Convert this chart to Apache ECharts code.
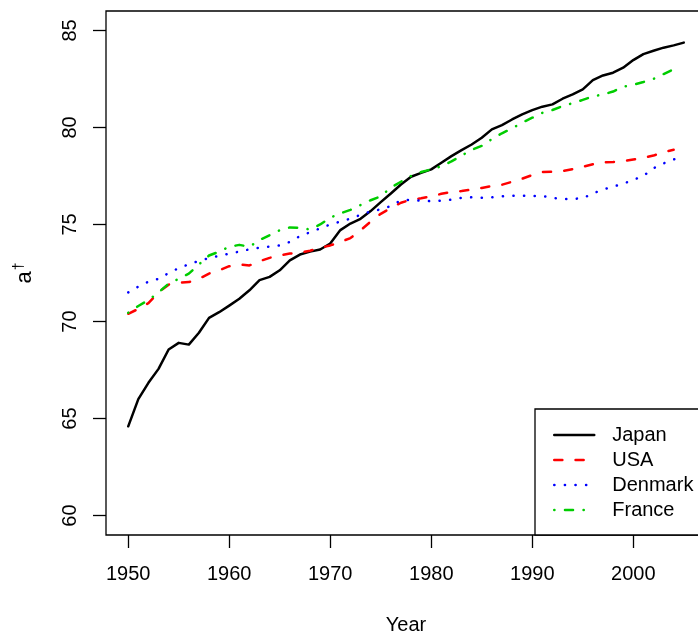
<!DOCTYPE html>
<html><head><meta charset="utf-8">
<script src="https://cdn.jsdelivr.net/npm/echarts@6/dist/echarts.min.js"></script>
<style>html,body{margin:0;padding:0;overflow:hidden;background:#fff}#c{width:720px;height:634px}</style>
</head><body><div id="c"></div>
<script>
const years = [1950,1951,1952,1953,1954,1955,1956,1957,1958,1959,
  1960,1961,1962,1963,1964,1965,1966,1967,1968,1969,
  1970,1971,1972,1973,1974,1975,1976,1977,1978,1979,
  1980,1981,1982,1983,1984,1985,1986,1987,1988,1989,
  1990,1991,1992,1993,1994,1995,1996,1997,1998,1999,
  2000,2001,2002,2003,2004,2005];
const japan = [64.6,66.0,66.84,67.56,68.56,68.9,68.81,69.42,70.19,70.48,
  70.82,71.17,71.61,72.13,72.3,72.64,73.15,73.45,73.6,73.71,
  74.02,74.71,75.05,75.29,75.69,76.15,76.6,77.06,77.46,77.66,
  77.84,78.18,78.52,78.83,79.12,79.47,79.9,80.12,80.41,80.67,
  80.89,81.07,81.19,81.48,81.7,81.96,82.44,82.68,82.82,83.08,
  83.47,83.78,83.95,84.11,84.23,84.37];
const usa = [70.4,70.65,70.95,71.5,71.9,72.0,72.03,72.2,72.47,72.64,
  72.85,72.94,72.89,73.11,73.28,73.4,73.5,73.55,73.65,73.8,
  73.92,74.1,74.3,74.7,75.15,75.55,75.85,76.12,76.28,76.35,
  76.45,76.58,76.68,76.72,76.8,76.88,76.98,77.05,77.2,77.36,
  77.55,77.7,77.72,77.75,77.85,77.97,78.1,78.21,78.22,78.26,
  78.35,78.44,78.55,78.73,78.85];
const denmark = [71.5,71.8,72.05,72.2,72.5,72.75,72.95,73.12,73.27,73.38,
  73.5,73.6,73.72,73.8,73.86,73.92,74.1,74.4,74.6,74.8,
  75.0,75.15,75.3,75.5,75.67,75.78,75.95,76.25,76.26,76.22,
  76.2,76.23,76.28,76.37,76.4,76.38,76.4,76.45,76.48,76.48,
  76.47,76.47,76.37,76.31,76.32,76.35,76.6,76.8,76.95,77.1,
  77.3,77.5,77.9,78.15,78.35,78.55];
const france = [70.45,70.8,71.1,71.5,71.95,72.2,72.47,72.94,73.4,73.6,
  73.85,73.95,73.85,74.2,74.45,74.7,74.85,74.83,74.74,75.0,
  75.35,75.57,75.75,76.0,76.25,76.45,76.9,77.2,77.5,77.7,
  77.84,78.0,78.25,78.55,78.85,79.05,79.4,79.7,79.95,80.25,
  80.5,80.75,80.9,81.1,81.25,81.42,81.6,81.7,81.85,82.1,
  82.2,82.34,82.5,82.75,83.0];
const xTicks = [1950,1960,1970,1980,1990,2000];
const yTicks = [60,65,70,75,80,85];
const seriesNames = ['Japan','USA','Denmark','France'];

const FONT = 'Liberation Sans';
const styles = [
  {color:'#000000', type:'solid'},
  {color:'#FF0000', type:[8.1,13.2]},
  {color:'#0000FF', type:[0.2,10.4]},
  {color:'#00CD00', type:[0.2,10.5,8.1,10.5]}
];
const values = [japan, usa, denmark, france];
const series = seriesNames.map((n,i)=>({
  name:n, type:'line', symbol:'none', showSymbol:false, animation:false,
  data: values[i].map((v,j)=>[years[j], v]),
  lineStyle:{color:styles[i].color, width:2.5, type:styles[i].type, cap:'round', join:'round'},
  itemStyle:{color:styles[i].color}
}));

const chart = echarts.init(document.getElementById('c'), null, {renderer:'canvas'});
chart.setOption({
  animation:false,
  backgroundColor:'#fff',
  grid:{left:106, top:11, width:600, height:524, containLabel:false, outerBoundsMode:'none',
    show:true, borderColor:'#000', borderWidth:1.3, backgroundColor:'transparent'},
  xAxis:{type:'value', min:1947.8, max:2007.2,
    name:'Year', nameLocation:'middle', nameGap:80,
    nameTextStyle:{fontSize:20, color:'#000', fontFamily:FONT},
    axisLine:{show:false},
    axisTick:{show:true, length:13, customValues:xTicks, lineStyle:{color:'#000', width:1.3}},
    axisLabel:{customValues:xTicks, fontSize:20, color:'#000', fontFamily:FONT, margin:29, formatter:(v)=>String(v)},
    splitLine:{show:false}},
  yAxis:{type:'value', min:59, max:86,
    name:'{a|a}{s|†}', nameLocation:'middle', nameGap:68, nameRotate:90,
    nameTextStyle:{color:'#000', fontFamily:FONT, fontSize:20,
      rich:{a:{fontSize:22, fontFamily:FONT, color:'#000'}, s:{fontSize:14, fontFamily:FONT, color:'#000', verticalAlign:'top', padding:[0,0,12,1]}}},
    axisLine:{show:false},
    axisTick:{show:true, length:13, customValues:yTicks, lineStyle:{color:'#000', width:1.3}},
    axisLabel:{customValues:yTicks, rotate:90, fontSize:20, color:'#000', fontFamily:FONT, margin:26, formatter:(v)=>String(v)},
    splitLine:{show:false}},
  legend:{
    left:535, top:409, orient:'vertical',
    data: seriesNames.map((n,i)=>({name:n,
      itemStyle:{color:'rgba(0,0,0,0)', borderColor:'rgba(0,0,0,0)', borderWidth:0},
      lineStyle:{width:2.5, type:styles[i].type, cap:'round', color:styles[i].color}})),
    itemWidth:40, itemHeight:20, itemGap:5,
    padding:[16,14,15,18],
    borderColor:'#000', borderWidth:1.3, borderRadius:0,
    backgroundColor:'#fff',
    textStyle:{fontSize:20, color:'#000', fontFamily:FONT, padding:[0,0,0,13]}
  },
  series: series
});
</script></body></html>
